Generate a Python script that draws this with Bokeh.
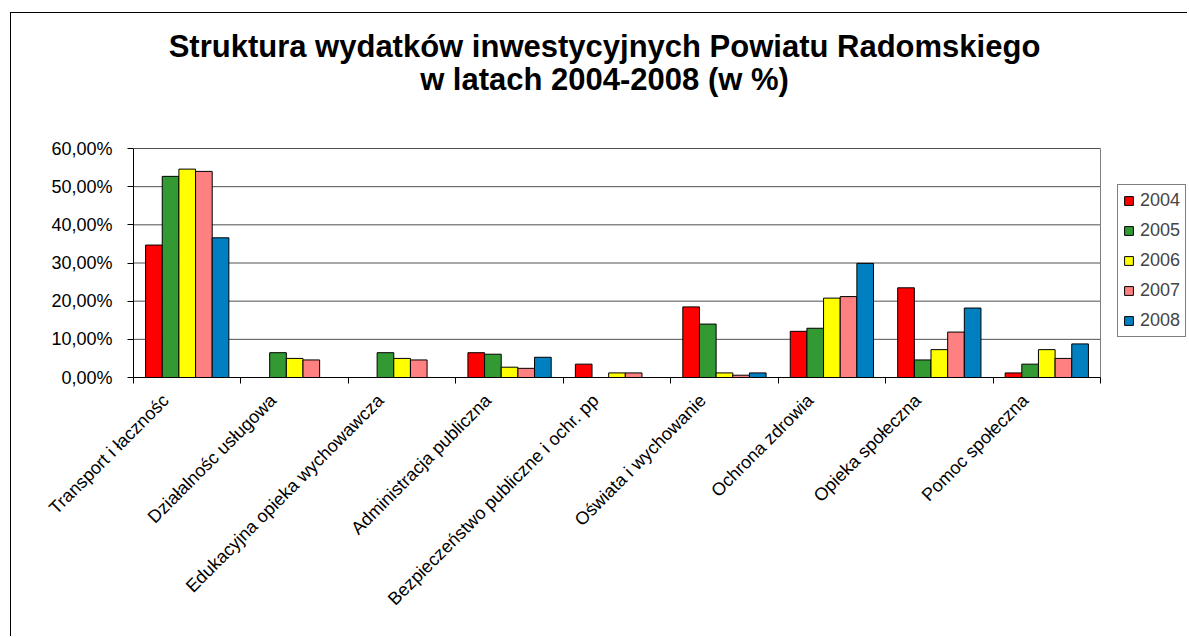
from bokeh.plotting import figure
from bokeh.models import Range1d, FixedTicker, Label, Legend, LegendItem
from bokeh.embed import file_html
from bokeh.resources import INLINE

categories = ["Transport i łacznośc", "Działalnośc usługowa", "Edukacyjna opieka wychowawcza",
              "Administracja publiczna", "Bezpieczeństwo publiczne i ochr. pp",
              "Oświata i wychowanie", "Ochrona zdrowia", "Opieka społeczna", "Pomoc społeczna"]
years = ["2004", "2005", "2006", "2007", "2008"]
v2004 = [34.7, 0.0, 0.0, 6.5, 3.5, 18.5, 12.1, 23.5, 1.2]
v2005 = [52.7, 6.5, 6.5, 6.1, 0.0, 14.0, 12.9, 4.6, 3.5]
v2006 = [54.6, 5.0, 5.0, 2.7, 1.2, 1.2, 20.8, 7.3, 7.3]
v2007 = [54.0, 4.6, 4.6, 2.4, 1.2, 0.6, 21.2, 11.9, 5.0]
v2008 = [36.6, 0.0, 0.0, 5.3, 0.0, 1.2, 29.9, 18.2, 8.8]
series = [v2004, v2005, v2006, v2007, v2008]
colors = ["#FF0000", "#339933", "#FFFF00", "#FF8080", "#0080C0"]
y_ticks = [0, 10, 20, 30, 40, 50, 60]
y_labels = ["0,00%", "10,00%", "20,00%", "30,00%", "40,00%", "50,00%", "60,00%"]
title_lines = ["Struktura wydatków inwestycyjnych Powiatu Radomskiego", "w latach 2004-2008 (w %)"]

FONT = "Liberation Sans"
n = len(categories)
bar_w = 0.155
y_max = 60

W, H = 1177, 624
MB_L, MB_B = 122, 260
frame_w = W - MB_L
frame_h = H - MB_B
px_per_y = 229 / 60.0
px_per_x = 967 / 9.0
y_top = y_max + (frame_h - 229) / px_per_y
x_right = n + (frame_w - 967) / px_per_x

p = figure(width=W, height=H, output_backend="svg", toolbar_location=None,
           x_range=Range1d(0, x_right), y_range=Range1d(0, y_top),
           min_border_left=MB_L, min_border_right=0, min_border_top=0, min_border_bottom=MB_B)
p.margin = (12, 0, 0, 10)
p.styles = {"border-left": "1px solid black", "border-top": "1px solid black"}
p.background_fill_color = "white"
p.border_fill_color = "white"
p.outline_line_color = None
p.xgrid.visible = False
p.ygrid.visible = False

# horizontal gridlines and right border of plot area
p.segment(x0=[0] * len(y_ticks), x1=[n] * len(y_ticks), y0=y_ticks, y1=y_ticks,
          line_color="#505050", line_width=1)
p.segment(x0=[n], x1=[n], y0=[0], y1=[y_max], line_color="#808080", line_width=1)

items = []
for j, (yr, vals, col) in enumerate(zip(years, series, colors)):
    xs = [i + 0.5 + (j - 2) * bar_w for i in range(n)]
    r = p.vbar(x=xs, top=vals, width=bar_w, bottom=0, fill_color=col,
               line_color="black", line_width=1)
    items.append(LegendItem(label=yr, renderers=[r]))

# x axis: labels on major ticks (hidden marks), tick marks on category boundaries
label_pos = [i + 0.5 - 0.20 for i in range(n)]
p.xaxis.ticker = FixedTicker(ticks=label_pos, minor_ticks=list(range(n + 1)))
p.xaxis.major_label_overrides = {pos: c for pos, c in zip(label_pos, categories)}
p.xaxis.major_label_orientation = 0.785398
p.xaxis.bounds = (0, n)
p.xaxis.major_tick_line_color = None
p.xaxis.major_tick_out = 6
p.xaxis.minor_tick_out = 6
p.xaxis.minor_tick_in = 0
p.xaxis.minor_tick_line_color = "black"
p.xaxis.axis_line_color = "black"
p.xaxis.major_label_standoff = 14
p.xaxis.major_label_text_font = FONT
p.xaxis.major_label_text_font_size = "18px"
p.xaxis.major_label_text_color = "black"

p.yaxis.ticker = FixedTicker(ticks=y_ticks, minor_ticks=[])
p.yaxis.bounds = (0, y_max)
p.yaxis.major_label_overrides = {t: s for t, s in zip(y_ticks, y_labels)}
p.yaxis.major_tick_out = 6
p.yaxis.major_tick_in = 0
p.yaxis.minor_tick_line_color = None
p.yaxis.axis_line_color = "black"
p.yaxis.major_tick_line_color = "black"
p.yaxis.major_label_standoff = 15
p.yaxis.major_label_text_font = FONT
p.yaxis.major_label_text_font_size = "18px"
p.yaxis.major_label_text_color = "black"

legend = Legend(items=items, location=(984, 40), orientation="vertical",
                glyph_width=11, glyph_height=11, label_height=20, spacing=9,
                padding=5, margin=0, label_standoff=6,
                label_text_font=FONT, label_text_font_size="18px",
                border_line_color="black", border_line_width=1,
                background_fill_color="white", background_fill_alpha=1.0)
p.add_layout(legend, "center")

for txt, yy in zip(title_lines, [331, 298]):
    p.add_layout(Label(x=471, y=yy, x_units="screen", y_units="screen", text=txt,
                       text_align="center", text_baseline="middle",
                       text_font=FONT, text_font_style="bold", text_font_size="31px",
                       text_color="black"))

open("out.html", "w").write(file_html(p, INLINE))
